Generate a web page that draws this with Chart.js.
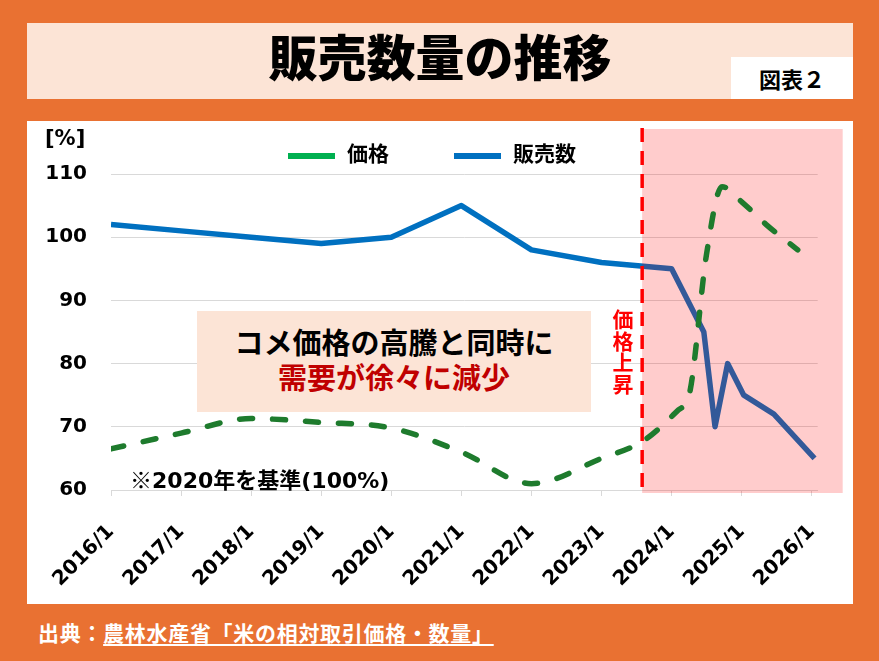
<!DOCTYPE html>
<html lang="ja">
<head>
<meta charset="utf-8">
<title>販売数量の推移</title>
<script src="https://cdn.jsdelivr.net/npm/chart.js@4.4.1/dist/chart.umd.min.js"></script>
<style>
  html, body { margin: 0; padding: 0; }
  body {
    width: 879px; height: 661px; position: relative; overflow: hidden;
    background: #E97132;
    font-family: 'Noto Sans CJK JP', 'DejaVu Sans', sans-serif;
  }
  .title {
    position: absolute; left: 27px; top: 23px; width: 826px; height: 76px;
    background: #FCE4D6;
  }
  .title h1 {
    position: absolute; left: 0; top: 0; width: 100%; margin: 0;
    height: 63px; line-height: 63px; text-align: center;
    font-size: 49px; font-weight: 900; color: #000;
  }
  .fig-no {
    position: absolute; left: 704px; top: 34px; width: 122px; height: 42px;
    background: #fff; text-align: center; line-height: 42px;
    font-size: 22px; font-weight: 700; color: #000;
  }
  .panel {
    position: absolute; left: 27px; top: 121px; width: 826px; height: 483px;
    background: #fff;
  }
  .panel canvas { position: absolute; left: 0; top: 0; }
  .unit {
    position: absolute; left: 45px; top: 126px;
    font: bold 21px 'DejaVu Sans', sans-serif; color: #000;
  }
  .note-box {
    position: absolute; left: 197px; top: 311px; width: 394px; height: 101px;
    background: #FCE4D6; text-align: center; box-sizing: border-box; padding-top: 13px;
    font-size: 29px; font-weight: 700; line-height: 35px; color: #000;
  }
  .note-box .red { color: #C00000; }
  .rise {
    position: absolute; left: 611px; top: 309px; width: 23px;
    writing-mode: vertical-rl; text-orientation: upright;
    font-size: 21px; font-weight: 700; line-height: 23px; letter-spacing: 0.5px;
    color: #FF0000;
  }
  .base {
    position: absolute; left: 130px; top: 462px;
    font: bold 22px 'DejaVu Sans', 'Noto Sans CJK JP', sans-serif; color: #000;
  }
  .base .cjk { font-family: 'Noto Sans CJK JP', sans-serif; }
  .source {
    position: absolute; left: 38px; top: 618px;
    font-size: 21px; font-weight: 700; line-height: 28px; letter-spacing: 0.7px;
    color: #fff; white-space: nowrap;
  }
  .source u { text-decoration-thickness: 1.5px; text-underline-offset: 3px; }
</style>
</head>
<body>
<div class="title">
  <h1>販売数量の推移</h1>
  <div class="fig-no">図表２</div>
</div>
<div class="panel"><canvas id="chart" width="826" height="483"></canvas></div>
<div class="unit">[%]</div>
<div class="note-box">コメ価格の高騰と同時に<br><span class="red">需要が徐々に減少</span></div>
<div class="rise">価格上昇</div>
<div class="base"><span class="cjk">※</span>2020<span class="cjk">年を基準</span>(100%)</div>
<div class="source">出典：<u>農林水産省「米の相対取引価格・数量」</u></div>

<script>
// x values are in years (2024.5 = mid 2024), y values in % of 2020
const tickYears = [2016, 2017, 2018, 2019, 2020, 2021, 2022, 2023, 2024, 2025, 2026];
const tickLabels = ['2016/1', '2017/1', '2018/1', '2019/1', '2020/1', '2021/1',
                    '2022/1', '2023/1', '2024/1', '2025/1', '2026/1'];

const priceX = [2016, 2017, 2018, 2019, 2020, 2021, 2022, 2023, 2023.6, 2024.1,
                2024.25, 2024.5, 2024.72, 2025, 2025.35, 2025.8];
const priceY = [66.5, 69, 71.3, 70.7, 69.8, 66, 61, 65, 67.8, 72.7,
                75, 97.4, 108, 105.6, 102, 98];

const salesX = [2016, 2017, 2018, 2019, 2020, 2021, 2022, 2023, 2024,
                2024.46, 2024.62, 2024.8, 2025.03, 2025.46, 2026.04];
const salesY = [102, 101, 100, 99, 100, 105, 98, 96, 95,
                85, 70, 80, 75, 72, 65];

const seriesNames = ['価格', '販売数'];
const legendColors = ['#00B050', '#0070C0'];
const riseStart = 2023.58;

Chart.defaults.font.family = "'DejaVu Sans', 'Noto Sans CJK JP', sans-serif";

const toPoints = (xs, ys) => xs.map((x, i) => ({ x: x, y: ys[i] }));

// pink zone goes over the sales line but under the price line
const riseZone = {
  id: 'riseZone',
  afterDatasetDraw(chart, args) {
    if (args.index !== 1) return;
    const { ctx, chartArea: a, scales: { x } } = chart;
    const left = x.getPixelForValue(riseStart);
    ctx.save();
    ctx.fillStyle = 'rgba(255, 0, 0, 0.2)';
    ctx.fillRect(left, a.top - 45, a.right + 25 - left, a.bottom - a.top + 48);
    ctx.restore();
  },
  afterDatasetsDraw(chart) {
    const { ctx, chartArea: a, scales: { x } } = chart;
    const px = x.getPixelForValue(riseStart);
    ctx.save();
    ctx.strokeStyle = '#FF0000';
    ctx.lineWidth = 3.5;
    ctx.setLineDash([14, 9]);
    ctx.beginPath();
    ctx.moveTo(px, a.top - 46);
    ctx.lineTo(px, a.bottom + 4);
    ctx.stroke();
    ctx.restore();
  }
};

const lineLegend = {
  id: 'lineLegend',
  afterDraw(chart) {
    const ctx = chart.ctx;
    let x = 261;
    ctx.save();
    ctx.font = "bold 21px 'Noto Sans CJK JP'";
    ctx.textBaseline = 'middle';
    chart.data.datasets.forEach((ds, i) => {
      ctx.strokeStyle = legendColors[i];
      ctx.lineWidth = 6;
      ctx.beginPath();
      ctx.moveTo(x, 35);
      ctx.lineTo(x + 47, 35);
      ctx.stroke();
      ctx.fillStyle = '#000';
      ctx.fillText(ds.label, x + 59, 32);
      x += 59 + ctx.measureText(ds.label).width + 65;
    });
    ctx.restore();
  }
};

new Chart(document.getElementById('chart'), {
  type: 'line',
  data: {
    datasets: [{
      label: seriesNames[0],
      data: toPoints(priceX, priceY),
      borderColor: '#1E7B2D',
      borderWidth: 5.5,
      borderDash: [13, 20],
      borderCapStyle: 'round',
      cubicInterpolationMode: 'monotone',
      pointRadius: 0
    }, {
      label: seriesNames[1],
      data: toPoints(salesX, salesY),
      borderColor: '#0070C0',
      borderWidth: 5.5,
      borderJoinStyle: 'round',
      tension: 0,
      pointRadius: 0
    }]
  },
  options: {
    responsive: false,
    animation: false,
    layout: { padding: { top: 53, right: 35, left: 0, bottom: 0 } },
    plugins: {
      legend: { display: false },
      tooltip: { enabled: false }
    },
    scales: {
      x: {
        type: 'linear',
        min: 2016,
        max: 2026.085,
        afterBuildTicks: s => { s.ticks = tickYears.map(v => ({ value: v })); },
        afterFit: s => { s.height = 114; },
        grid: { drawOnChartArea: false, tickLength: 6, color: '#D9D9D9' },
        border: { color: '#D9D9D9' },
        ticks: {
          autoSkip: false,
          minRotation: 45,
          maxRotation: 45,
          padding: 24,
          color: '#000',
          font: { size: 20, weight: 'bold' },
          callback: (v, i) => tickLabels[i]
        }
      },
      y: {
        min: 60,
        max: 110,
        afterFit: s => { s.width = 84; },
        grid: { color: '#D9D9D9', drawTicks: false },
        border: { display: false },
        ticks: {
          stepSize: 10,
          padding: 24,
          color: '#000',
          font: { size: 20, weight: 'bold' }
        }
      }
    }
  },
  plugins: [riseZone, lineLegend]
});
</script>
</body>
</html>
